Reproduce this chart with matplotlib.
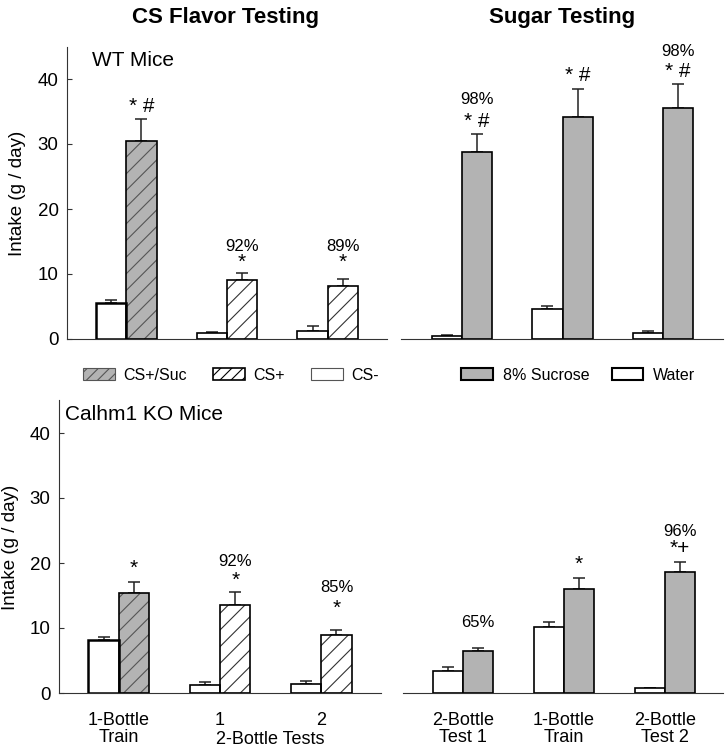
import numpy as np
import matplotlib
matplotlib.use("Agg")
import matplotlib.pyplot as plt
from matplotlib.patches import Patch

plt.rcParams['font.family'] = ['Liberation Sans', 'DejaVu Sans']
plt.rcParams['hatch.linewidth'] = 0.8

# group positions
groups = [0, 1, 2]

# WT mice, CS flavor testing (g / day)
wt_cs_minus = [5.6, 0.9, 1.3]
wt_cs_minus_err = [0.4, 0.15, 0.65]
wt_cs_plus = [30.4, 9.0, 8.2]
wt_cs_plus_err = [3.5, 1.1, 1.1]

# WT mice, sugar testing
wt_water = [0.4, 4.6, 0.9]
wt_water_err = [0.2, 0.45, 0.4]
wt_sucrose = [28.8, 34.2, 35.5]
wt_sucrose_err = [2.8, 4.3, 3.8]

# Calhm1 KO mice, CS flavor testing
ko_cs_minus = [8.1, 1.3, 1.4]
ko_cs_minus_err = [0.45, 0.45, 0.5]
ko_cs_plus = [15.4, 13.6, 8.9]
ko_cs_plus_err = [1.75, 1.9, 0.8]

# Calhm1 KO mice, sugar testing
ko_water = [3.4, 10.1, 0.7]
ko_water_err = [0.55, 0.8, 0.08]
ko_sucrose = [6.4, 16.0, 18.6]
ko_sucrose_err = [0.5, 1.7, 1.5]

flavor_labels = ["1-Bottle\nTrain", "1", "2"]
sugar_labels = ["2-Bottle\nTest 1", "1-Bottle\nTrain", "2-Bottle\nTest 2"]

# annotations: (group, text, y)
wt_flavor_notes = [(0, "* #", 35.7), (1, "92%", 14.2), (1, "*", 11.8),
                   (2, "89%", 14.2), (2, "*", 11.8)]
wt_sugar_notes = [(0, "98%", 36.9), (0, "* #", 33.5), (1, "* #", 40.6),
                  (2, "98%", 44.3), (2, "* #", 41.2)]
ko_flavor_notes = [(0, "*", 19.2), (1, "92%", 20.3), (1, "*", 17.4),
                   (2, "85%", 16.3), (2, "*", 13.1)]
ko_sugar_notes = [(0, "65%", 10.8), (1, "*", 19.8), (2, "96%", 24.9),
                  (2, "*+", 22.2)]

gray = "#b3b3b3"
W = 727
H = 750
fig = plt.figure(figsize=(7.27, 7.5), dpi=100)

ax_tl = fig.add_axes([67 / W, 1 - 339 / H, 320 / W, 292.5 / H])
ax_tr = fig.add_axes([401 / W, 1 - 339 / H, 322 / W, 292.5 / H])
ax_bl = fig.add_axes([59 / W, 1 - 693 / H, 322 / W, 292.5 / H])
ax_br = fig.add_axes([403 / W, 1 - 693 / H, 320 / W, 292.5 / H])


def hatched_bars(ax, x, vals, face, hatch_col, first_face):
    for i, (xi, v) in enumerate(zip(x, vals)):
        fc = first_face if i == 0 else face
        hc = "#555555" if i == 0 else hatch_col
        ax.bar(xi, v, width=0.3, color=fc, edgecolor=hc, hatch="//",
               linewidth=0, zorder=2)
        ax.bar(xi, v, width=0.3, facecolor="none", edgecolor="black",
               linewidth=1.2, zorder=3)


def err(ax, x, vals, errs):
    ax.errorbar(x, vals, yerr=[np.zeros(len(errs)), errs], fmt="none",
                ecolor="#222222", elinewidth=1.1, capsize=4, capthick=1.1,
                zorder=1)


def notes(ax, x, items):
    for g, txt, y in items:
        size = 15 if "*" in txt else 12
        ax.text(x[g], y, txt, ha="center", va="center", fontsize=size)


x = np.array(groups)
left = x - 0.15
right = x + 0.15

# flavor panels
for ax, cm, cme, cp, cpe, nts in [
        (ax_tl, wt_cs_minus, wt_cs_minus_err, wt_cs_plus, wt_cs_plus_err, wt_flavor_notes),
        (ax_bl, ko_cs_minus, ko_cs_minus_err, ko_cs_plus, ko_cs_plus_err, ko_flavor_notes)]:
    lw = [1.8, 1.2, 1.2]
    ax.bar(left, cm, width=0.3, color="white", edgecolor="black", linewidth=lw, zorder=3)
    hatched_bars(ax, right, cp, "white", "#333333", gray)
    err(ax, left, cm, cme)
    err(ax, right, cp, cpe)
    notes(ax, right, nts)
    ax.set_xlim(-0.59, 2.59)

# sugar panels
for ax, wv, we, sv, se, nts in [
        (ax_tr, wt_water, wt_water_err, wt_sucrose, wt_sucrose_err, wt_sugar_notes),
        (ax_br, ko_water, ko_water_err, ko_sucrose, ko_sucrose_err, ko_sugar_notes)]:
    ax.bar(left, wv, width=0.3, color="white", edgecolor="black", linewidth=1.2, zorder=3)
    ax.bar(right, sv, width=0.3, color=gray, edgecolor="black", linewidth=1.2, zorder=3)
    err(ax, left, wv, we)
    err(ax, right, sv, se)
    notes(ax, right, nts)

ax_tr.set_xlim(-0.607, 2.597)
ax_br.set_xlim(-0.594, 2.574)

for ax in [ax_tl, ax_tr, ax_bl, ax_br]:
    ax.set_ylim(0, 45)
    ax.spines["top"].set_visible(False)
    ax.spines["right"].set_visible(False)
    ax.spines["bottom"].set_color("#333333")
    ax.spines["left"].set_color("#333333")
    ax.tick_params(axis="x", length=0)
    ax.set_xticks([])

for ax in [ax_tl, ax_bl]:
    ax.set_yticks([0, 10, 20, 30, 40])
    ax.tick_params(axis="y", direction="in", length=3.5, pad=6,
                   labelsize=13.5, color="#333333")

for ax in [ax_tr, ax_br]:
    ax.spines["left"].set_visible(False)
    ax.set_yticks([])

# x labels for bottom row
ax_bl.set_xticks(x)
ax_bl.set_xticklabels(flavor_labels, fontsize=13, linespacing=1.0)
ax_bl.tick_params(axis="x", length=0, pad=14)
ax_bl.text(1.5, -0.158, "2-Bottle Tests", transform=ax_bl.get_xaxis_transform(),
           ha="center", va="center", fontsize=13)
ax_br.set_xticks(x)
ax_br.set_xticklabels(sugar_labels, fontsize=13, linespacing=1.0)
ax_br.tick_params(axis="x", length=0, pad=14)

# panel labels
ax_tl.text(-0.337, 42.9, "WT Mice", fontsize=15, va="center", ha="left")
ax_bl.text(-0.53, 42.9, "Calhm1 KO Mice", fontsize=15, va="center", ha="left")

# titles and y labels
fig.text(226 / W, 1 - 17 / H, "CS Flavor Testing", ha="center", va="center",
         fontsize=16, fontweight="bold")
fig.text(562 / W, 1 - 17 / H, "Sugar Testing", ha="center", va="center",
         fontsize=16, fontweight="bold")
fig.text(18 / W, 1 - 193 / H, "Intake (g / day)", rotation=90, ha="center",
         va="center", fontsize=13.5)
fig.text(11 / W, 1 - 547 / H, "Intake (g / day)", rotation=90, ha="center",
         va="center", fontsize=13.5)

# legends
leg_flavor = [
    Patch(facecolor=gray, edgecolor="#555555", hatch="///", linewidth=0.8, label="CS+/Suc"),
    Patch(facecolor="white", edgecolor="black", hatch="///", linewidth=1.2, label="CS+"),
    Patch(facecolor="white", edgecolor="#555555", linewidth=0.8, label="CS-"),
]
leg_sugar = [
    Patch(facecolor=gray, edgecolor="black", linewidth=1.5, label="8% Sucrose"),
    Patch(facecolor="white", edgecolor="black", linewidth=1.5, label="Water"),
]
fig.legend(handles=leg_flavor, loc="center left", bbox_to_anchor=(83 / W, 1 - 375 / H),
           ncol=3, frameon=False, fontsize=11.5, handlelength=2.0, handleheight=0.7,
           handletextpad=0.55, columnspacing=1.6, borderpad=0, borderaxespad=0)
fig.legend(handles=leg_sugar, loc="center left", bbox_to_anchor=(461 / W, 1 - 375 / H),
           ncol=2, frameon=False, fontsize=11.5, handlelength=2.0, handleheight=0.7,
           handletextpad=0.6, columnspacing=1.4, borderpad=0, borderaxespad=0)

fig.savefig("out.png", dpi=100)
